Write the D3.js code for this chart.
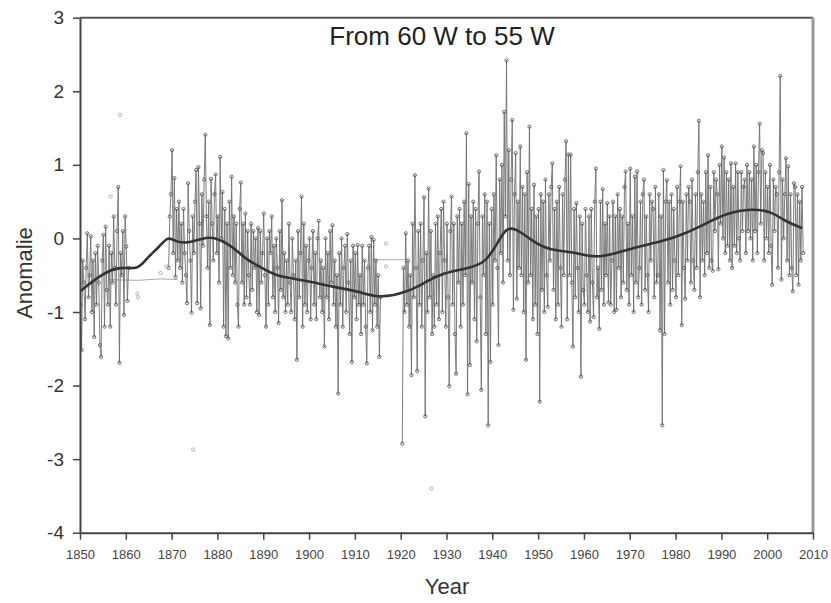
<!DOCTYPE html>
<html>
<head>
<meta charset="utf-8">
<script src="https://cdn.jsdelivr.net/npm/d3@7"></script>
<style>
    body { margin: 0; background: #fff; }
    text { font-family: 'Liberation Sans', Arial, sans-serif; }
</style>
</head>
<body>
<script>
// quarterly anomalies, one row per year starting at 1850 (null = no data)
const firstYear = 1850;
const anomalies = [
    [-0.9, -1.52, -0.3, -0.6],   // 1850
    [-1.1, -0.4, 0.07, -0.8],
    [-0.5, 0.03, -1.0, -0.3],
    [-1.34, -0.2, -0.9, -0.1],
    [-0.6, -1.45, -1.61, -0.3],
    [0.05, -1.2, 0.16, -0.7],    // 1855
    [-0.9, -0.1, -1.2, -0.2],
    [-0.6, 0.3, -0.4, -0.9],
    [0.1, 0.70, -1.69, -0.2],
    [-0.5, 0.1, -1.04, 0.30],
    [-0.11, -0.85, -0.4, null],  // 1860
    null, null, null, null, null, null, null, null,
    [null, -0.4, 0.3, 0.6],      // 1869
    [1.20, -0.2, 0.82, -0.52],   // 1870
    [0.4, -0.3, 0.5, -0.4],
    [0.2, -0.6, 0.4, -0.2],
    [-0.5, -0.88, 0.75, 0.1],
    [-0.3, -1.01, 0.3, -0.2],
    [0.5, 0.93, -0.88, 0.97],    // 1875
    [0.2, -0.95, 0.6, -0.1],
    [0.8, 1.41, 0.3, -0.4],
    [0.5, -1.18, 0.81, 0.2],
    [-0.3, 0.6, 0.87, -0.2],
    [0.3, -0.6, 1.11, 0.0],      // 1880
    [0.63, -1.2, 0.4, -1.33],
    [0.2, -1.36, 0.5, -0.4],
    [0.84, -0.5, 0.3, -0.6],
    [0.2, -0.9, -1.2, 0.4],
    [0.76, -0.6, 0.2, -0.9],     // 1885
    [0.34, -0.8, 0.1, -0.5],
    [-0.9, 0.2, -0.7, 0.1],
    [-0.4, 0.0, -1.0, 0.14],
    [-1.04, 0.1, -0.6, -0.2],
    [0.34, -0.5, -1.2, 0.0],     // 1890
    [-0.9, 0.1, -0.2, 0.30],
    [-0.8, -0.1, -1.0, 0.0],
    [-0.4, -1.15, 0.1, -0.7],
    [0.52, -0.8, -0.2, -1.0],
    [-0.3, -0.9, 0.2, -0.6],     // 1895
    [-1.0, 0.0, -0.5, -1.1],
    [-0.3, -1.65, 0.1, -0.8],
    [-0.2, 0.57, -1.2, 0.2],
    [-0.9, -0.1, -1.0, -0.3],
    [0.0, -1.1, -0.4, 0.1],      // 1900
    [-0.9, -0.2, -1.1, 0.0],
    [0.24, -0.8, -0.3, -1.0],
    [-0.4, -1.47, 0.0, -0.8],
    [-0.2, -1.1, 0.1, -0.6],
    [0.18, -0.9, -0.3, -1.2],    // 1905
    [-0.5, -2.11, -0.2, -0.9],
    [0.0, -1.2, -0.4, -0.1],
    [-1.0, 0.06, -0.6, -1.3],
    [-0.3, -1.68, -0.1, -0.8],
    [-0.2, -1.1, -0.09, -0.9],   // 1910
    [-0.5, -1.3, -0.1, -0.9],
    [-0.3, -1.2, -1.7, -0.4],
    [-0.1, -1.0, 0.02, -1.25],
    [-0.02, -0.9, -0.3, -1.2],
    [-0.5, -1.61, -0.8, null],   // 1915
    null, null, null, null,
    [null, -2.79, -0.4, -1.0],   // 1920
    [0.07, -0.9, -0.3, -1.2],
    [-0.5, -1.86, 0.2, -0.8],
    [0.86, -0.4, -1.8, 0.1],
    [-0.9, 0.2, -1.2, -0.3],
    [0.56, -2.42, -0.2, -1.0],   // 1925
    [0.68, -0.8, 0.1, -1.3],
    [-0.5, -1.2, 0.2, -0.9],
    [0.3, -1.1, -0.2, 0.4],
    [-1.0, 0.5, -0.3, -1.2],
    [0.2, -0.8, -2.01, 0.1],     // 1930
    [0.57, -0.9, 0.2, -1.3],
    [-1.84, 0.3, -0.6, 0.4],
    [-1.2, 0.2, -0.9, 0.5],
    [-0.5, 1.43, -2.12, 0.74],
    [-1.72, 0.3, -0.6, 0.5],     // 1935
    [-1.1, 0.4, -1.4, 0.2],
    [0.91, -0.8, -2.06, 0.3],
    [-0.5, 0.6, -1.3, 0.50],
    [-2.54, 0.2, -1.68, 0.4],
    [-0.9, 0.6, -0.3, 1.13],     // 1940
    [-0.4, -1.45, 0.8, -0.2],
    [1.0, -0.6, 1.72, 0.3],
    [2.42, -0.3, 1.2, -0.5],
    [0.8, 1.61, -0.97, 0.6],
    [1.16, -0.82, 0.5, -0.4],    // 1945
    [1.25, -0.5, 0.7, -1.0],
    [0.6, -1.65, 0.9, -0.6],
    [1.52, -0.5, 0.4, -1.1],
    [0.73, -0.9, 0.3, -1.3],
    [0.4, -2.22, 0.6, -0.7],     // 1950
    [0.5, -1.0, 0.8, -0.5],
    [-0.93, 0.6, -0.3, 0.7],
    [1.02, -0.7, 0.4, -1.1],
    [0.5, -0.9, 0.7, -0.4],
    [-1.2, 0.6, -0.5, 0.8],      // 1955
    [1.32, -1.1, 1.14, -0.5],
    [1.14, -0.6, -1.47, 0.4],
    [-0.8, 0.48, -0.4, -1.0],
    [0.3, -1.88, 0.2, -0.7],
    [-0.9, 0.4, -0.5, -1.0],     // 1960
    [0.3, -1.13, 0.4, -0.6],
    [-1.07, 0.5, 0.95, -0.8],
    [-0.4, -1.23, 0.5, -0.7],
    [0.67, -0.9, 0.2, -0.5],
    [0.48, -0.87, 0.3, -0.9],    // 1965
    [-0.3, 0.5, -1.0, 0.3],
    [-0.97, 0.6, -0.4, 0.4],
    [-0.8, 0.3, -0.6, 0.7],
    [0.91, -0.7, 0.2, -0.9],
    [0.95, -0.5, 0.3, -1.0],     // 1970
    [0.84, -0.6, 0.91, -0.8],
    [-0.4, 0.5, -0.9, 0.6],
    [0.8, -0.7, 0.3, -0.5],
    [-1.0, 0.6, -0.3, 0.5],
    [0.4, -0.8, 0.7, -0.6],      // 1975
    [-0.5, 0.6, -1.25, 0.3],
    [-2.54, 0.93, -1.3, 0.5],
    [0.79, -0.6, 0.5, -0.9],
    [0.6, -0.7, 0.4, -0.3],
    [-0.8, 0.7, -0.5, 0.5],      // 1980
    [0.98, -1.18, 0.5, -0.4],
    [-0.82, 0.6, -0.3, 0.7],
    [0.5, -0.6, 0.8, -0.3],
    [-0.7, 0.6, -0.4, 0.9],
    [1.60, -0.8, 0.6, -0.3],     // 1985
    [0.5, -0.5, 0.9, -0.2],
    [1.13, -0.4, 0.7, -0.3],
    [-0.44, 0.9, 0.1, 0.8],
    [0.6, -0.42, 1.0, 0.2],
    [1.25, 0.0, 1.1, -0.2],      // 1990
    [0.9, -0.1, 0.8, -0.3],
    [1.02, -0.4, 0.7, -0.1],
    [1.02, -0.2, 0.9, 0.0],
    [-0.3, 0.9, 0.1, 0.7],
    [0.8, -0.2, 1.0, 0.1],       // 1995
    [0.9, 0.0, 0.8, -0.3],
    [1.25, 0.1, 1.0, -0.2],
    [0.9, 1.56, 0.2, 1.2],
    [1.16, -0.3, 0.9, 0.0],
    [0.7, -0.2, 1.0, -0.1],      // 2000
    [-0.63, 0.8, 0.1, 0.7],
    [0.6, -0.4, 0.9, 2.21],
    [-0.56, 0.8, 0.0, 0.6],
    [1.09, -0.3, 0.98, -0.5],
    [0.6, -0.4, -0.72, 0.75],    // 2005
    [0.7, -0.5, 0.6, -0.63],
    [0.5, -0.3, 0.7, -0.2]       // 2007
];

// smoothed curve
const smoothYears = [1850, 1855.1, 1858.7, 1862.7, 1864.5, 1867.4, 1869.2, 1870.7, 1873.2, 1876.8,
    1879, 1883.4, 1886.3, 1889.2, 1892.8, 1899.3, 1905.2, 1911, 1915.4, 1921.9,
    1925.5, 1929.2, 1934.3, 1938.6, 1941.5, 1943, 1945.2, 1948.8, 1952.4, 1957.5,
    1962.6, 1966.9, 1972, 1977.1, 1981.5, 1986.6, 1990.9, 1996.7, 2001.1, 2004, 2007.6];
const smoothValues = [-0.72, -0.47, -0.38, -0.43, -0.27, -0.11, 0.03, -0.04, -0.07, 0.0,
    0.03, -0.11, -0.29, -0.38, -0.52, -0.57, -0.66, -0.72, -0.82, -0.72,
    -0.59, -0.47, -0.41, -0.34, -0.02, 0.14, 0.14, -0.04, -0.16, -0.18,
    -0.27, -0.2, -0.11, -0.04, 0.05, 0.2, 0.34, 0.41, 0.36, 0.23, 0.14];

// isolated faint points [year, anomaly]
const strayPoints = [[1856.7, 0.57], [1858.7, 1.68], [1862.5, -0.75], [1862.7, -0.8],
    [1867.6, -0.47], [1868.9, -0.38], [1874.7, -2.87], [1916.8, -0.07],
    [1916.8, -0.38], [1926.7, -3.40]];

// faint lines bridging the data gaps
const gapLines = [
    [[1856.1, -0.56], [1862.6, -0.57], [1867.6, -0.55], [1871.4, -0.56]],
    [[1913.8, -0.29], [1916.8, -0.29], [1921.0, -0.29]]
];

const yearTicks = [1850, 1860, 1870, 1880, 1890, 1900, 1910, 1920, 1930, 1940, 1950, 1960, 1970, 1980, 1990, 2000, 2010];
const anomalyTicks = [-4, -3, -2, -1, 0, 1, 2, 3];

const svg = d3.select('body').append('svg')
    .attr('width', 831)
    .attr('height', 603);

const x = d3.scaleLinear().domain([1850, 2010]).range([80, 813]);
const y = d3.scaleLinear().domain([-4, 3]).range([532.7, 17.7]);

// flatten the yearly rows into points
const points = [];
anomalies.forEach((row, i) => {
    for (let q = 0; q < 4; q++) {
        const v = row ? row[q] : null;
        points.push({ t: firstYear + i + q * 0.25 + 0.1, v: v === undefined ? null : v });
    }
});

svg.append('clipPath').attr('id', 'plot')
    .append('rect')
    .attr('x', 80).attr('y', 17.7)
    .attr('width', 733).attr('height', 515);

const plot = svg.append('g').attr('clip-path', 'url(#plot)');

// gap bridges
const pairLine = d3.line().x(d => x(d[0])).y(d => y(d[1]));
plot.selectAll('.gap')
    .data(gapLines)
    .join('path')
    .attr('class', 'gap')
    .attr('d', pairLine)
    .attr('fill', 'none')
    .attr('stroke', '#aaa')
    .attr('stroke-width', 1);

// raw series
const line = d3.line()
    .defined(d => d.v !== null)
    .x(d => x(d.t))
    .y(d => y(d.v));

plot.append('path')
    .datum(points)
    .attr('d', line)
    .attr('fill', 'none')
    .attr('stroke', '#6e6e6e')
    .attr('stroke-width', 0.9);

plot.selectAll('.pt')
    .data(points.filter(d => d.v !== null))
    .join('circle')
    .attr('class', 'pt')
    .attr('cx', d => x(d.t))
    .attr('cy', d => y(d.v))
    .attr('r', 1.6)
    .attr('fill', 'none')
    .attr('stroke', '#505050')
    .attr('stroke-width', 0.8);

plot.selectAll('.stray')
    .data(strayPoints)
    .join('circle')
    .attr('class', 'stray')
    .attr('cx', d => x(d[0]))
    .attr('cy', d => y(d[1]))
    .attr('r', 1.6)
    .attr('fill', 'none')
    .attr('stroke', '#aaa')
    .attr('stroke-width', 0.9);

// smoothed line
const smooth = d3.line()
    .curve(d3.curveBasis)
    .x((d, i) => x(smoothYears[i]))
    .y(d => y(d));

plot.append('path')
    .datum(smoothValues)
    .attr('d', smooth)
    .attr('fill', 'none')
    .attr('stroke', '#333')
    .attr('stroke-width', 2.6);

// frame top and right
svg.append('line')
    .attr('x1', x(1850)).attr('x2', x(2010))
    .attr('y1', y(3)).attr('y2', y(3))
    .attr('stroke', '#555').attr('stroke-width', 2);
svg.append('line')
    .attr('x1', x(2010)).attr('x2', x(2010))
    .attr('y1', y(3)).attr('y2', y(-4))
    .attr('stroke', '#999').attr('stroke-width', 3);

// axes
const yAxis = svg.append('g')
    .attr('transform', `translate(${x(1850)},0)`)
    .call(d3.axisLeft(y).tickValues(anomalyTicks).tickSize(7).tickSizeOuter(0)
        .tickPadding(9).tickFormat(d => String(d)));

const xAxis = svg.append('g')
    .attr('transform', `translate(0,${y(-4)})`)
    .call(d3.axisBottom(x).tickValues(yearTicks).tickSize(7).tickSizeOuter(0)
        .tickPadding(10).tickFormat(d => String(d)));

[yAxis, xAxis].forEach(ax => {
    ax.select('.domain').attr('stroke', '#444').attr('stroke-width', 2);
    ax.selectAll('.tick line').attr('stroke', '#444').attr('stroke-width', 1.5);
});

yAxis.selectAll('text')
    .attr('font-size', 19)
    .attr('fill', '#333')
    .style('font-family', "'Liberation Sans', Arial, sans-serif");

xAxis.selectAll('text')
    .attr('font-size', 13)
    .attr('fill', '#444')
    .style('font-family', "'Liberation Sans', Arial, sans-serif");

// titles
svg.append('text')
    .attr('x', 442)
    .attr('y', 45)
    .attr('text-anchor', 'middle')
    .attr('font-size', 26)
    .attr('fill', '#222')
    .text('From 60 W to 55 W');

svg.append('text')
    .attr('x', 447)
    .attr('y', 594)
    .attr('text-anchor', 'middle')
    .attr('font-size', 22)
    .attr('fill', '#333')
    .text('Year');

svg.append('text')
    .attr('transform', 'translate(32,273) rotate(-90)')
    .attr('text-anchor', 'middle')
    .attr('font-size', 22)
    .attr('fill', '#333')
    .text('Anomalie');
</script>
</body>
</html>
